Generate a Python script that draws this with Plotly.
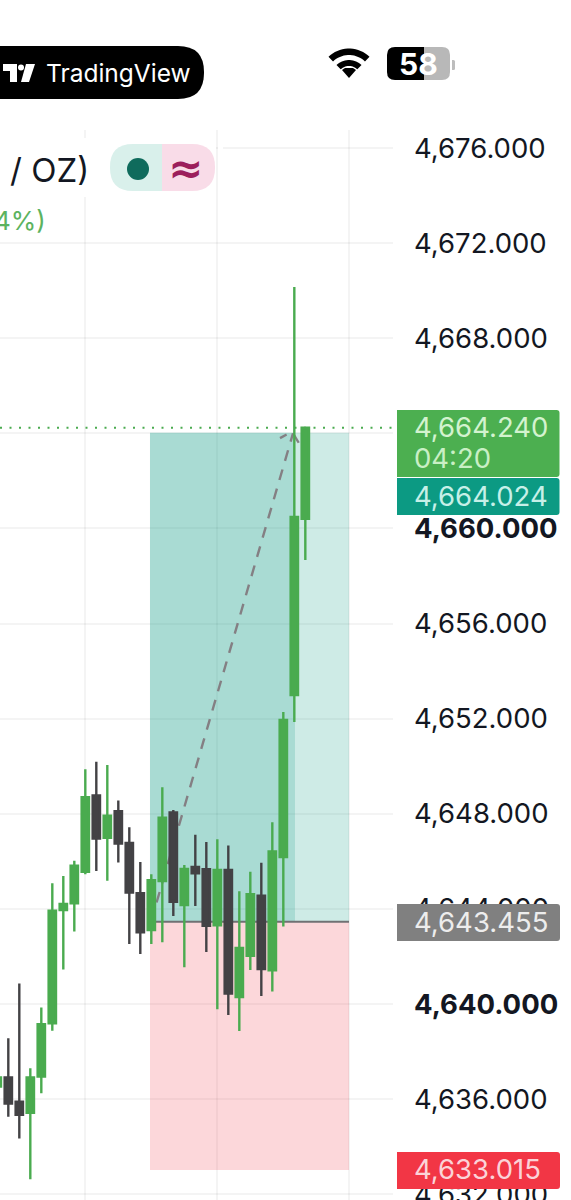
import numpy as np
import plotly.graph_objects as go

W, H = 571, 1200

# ---------- data ----------
CANDLE_INDEX = list(range(-1, 28))
OPEN = [4636.52, 4636.91, 4635.89, 4635.42, 4636.94, 4639.18, 4643.95, 4644.23, 4645.56, 4648.77, 4646.99,
        4648.10, 4646.77, 4644.66, 4643.11, 4645.17, 4648.05, 4644.16, 4645.76, 4645.66, 4643.31, 4645.63,
        4640.29, 4642.02, 4644.55, 4641.41, 4646.18, 4652.99, 4660.41]
HIGH = [4637.00, 4638.55, 4640.86, 4637.29, 4639.85, 4645.07, 4645.38, 4646.02, 4649.87, 4650.19, 4650.05,
        4648.55, 4647.43, 4645.97, 4645.45, 4649.11, 4648.16, 4645.84, 4647.11, 4646.81, 4646.92, 4646.66,
        4644.74, 4645.56, 4645.94, 4647.64, 4652.28, 4670.16, 4664.24]
LOW = [4636.40, 4635.25, 4634.34, 4632.62, 4636.24, 4638.87, 4641.45, 4643.04, 4645.45, 4645.59, 4645.18,
       4645.95, 4642.52, 4642.10, 4642.52, 4642.59, 4643.70, 4641.54, 4644.12, 4642.18, 4639.77, 4639.53,
       4638.86, 4641.43, 4640.33, 4640.52, 4643.25, 4651.86, 4658.67]
CLOSE = [4636.91, 4635.81, 4635.33, 4636.91, 4639.15, 4643.92, 4644.20, 4645.81, 4648.69, 4646.95, 4647.92,
         4646.74, 4644.68, 4643.01, 4645.20, 4647.83, 4644.29, 4645.68, 4645.49, 4643.28, 4645.63, 4640.43,
         4642.35, 4644.61, 4641.47, 4646.41, 4651.94, 4660.48, 4664.24]

TICK_VALUES = [4632, 4636, 4640, 4644, 4648, 4652, 4656, 4660, 4664, 4668, 4672, 4676]
BOLD_TICKS = [4640, 4660]
HIDDEN_TICKS = [4664]
GRID_INDEX = [7, 19, 31]
X_RANGE = [-0.755, 34.97]

LAST_PRICE = 4664.240
COUNTDOWN = "04:20"
TARGET_PRICE = 4664.024
ENTRY_PRICE = 4643.455
STOP_PRICE = 4633.015

POSITION_START, POSITION_SPLIT, POSITION_END = 12.88, 26.06, 30.97
PATH_INDEX = [12.97, 25.88, 26.6]
PATH_PRICE = [ENTRY_PRICE, 4664.0, 4663.45]
HOOK_INDEX = [24.7, 25.3]
HOOK_PRICE = [4663.8, 4663.95]

# ---------- helpers (screen furniture in page pixels) ----------
def px(x):
    return x / W

def py(y):
    return 1 - y / H

def pt(x, y):
    return f"{px(x):.5f},{py(y):.5f}"

def poly(points):
    return "M" + " L".join(pt(x, y) for x, y in points) + " Z"

def round_rect(x0, y0, x1, y1, r, tl=True, tr=True, br=True, bl=True):
    s = "M" + pt(x0 + (r if tl else 0), y0)
    s += " L" + pt(x1 - (r if tr else 0), y0)
    if tr:
        s += " Q" + pt(x1, y0) + " " + pt(x1, y0 + r)
    s += " L" + pt(x1, y1 - (r if br else 0))
    if br:
        s += " Q" + pt(x1, y1) + " " + pt(x1 - r, y1)
    s += " L" + pt(x0 + (r if bl else 0), y1)
    if bl:
        s += " Q" + pt(x0, y1) + " " + pt(x0, y1 - r)
    s += " L" + pt(x0, y0 + (r if tl else 0))
    if tl:
        s += " Q" + pt(x0, y0) + " " + pt(x0 + r, y0)
    return s + " Z"

def arc_band(cx, cy, r0, r1, half_deg=44):
    a = np.radians(np.linspace(-half_deg, half_deg, 18))
    outer = [(cx + r1 * np.sin(t), cy - r1 * np.cos(t)) for t in a]
    inner = [(cx + r0 * np.sin(t), cy - r0 * np.cos(t)) for t in a[::-1]]
    return poly(outer + inner)

def screen_shape(path, color):
    return dict(type="path", xref="paper", yref="paper", path=path, fillcolor=color,
                line=dict(width=0), layer="above")

def label(x, y, text, size, color, anchor="left", bold=False, family="Inter"):
    return dict(xref="paper", yref="paper", x=px(x), y=py(y), text=f"<b>{text}</b>" if bold else text,
                xanchor=anchor, yanchor="middle", showarrow=False,
                font=dict(family=family, size=size, color=color))

def chart_rect(x0, x1, y0, y1, color):
    return dict(type="rect", xref="x", yref="y", x0=x0, x1=x1, y0=y0, y1=y1,
                fillcolor=color, line=dict(width=0), layer="between")

# ---------- figure ----------
GREEN = "#4aab4f"
DARK = "#434245"
GRID = "rgba(0,0,0,0.045)"
tick_text = [f"<b>{v:,.3f}</b>" if v in BOLD_TICKS else ("" if v in HIDDEN_TICKS else f"{v:,.3f}")
             for v in TICK_VALUES]

fig = go.Figure(go.Candlestick(
    x=CANDLE_INDEX, open=OPEN, high=HIGH, low=LOW, close=CLOSE,
    increasing=dict(line=dict(color=GREEN, width=2.4), fillcolor=GREEN),
    decreasing=dict(line=dict(color=DARK, width=2.4), fillcolor=DARK),
    showlegend=False, hoverinfo="skip",
))

shapes = [
    chart_rect(POSITION_START, POSITION_SPLIT, ENTRY_PRICE, TARGET_PRICE, "rgba(8,153,129,0.35)"),
    chart_rect(POSITION_SPLIT, POSITION_END, ENTRY_PRICE, TARGET_PRICE, "rgba(8,153,129,0.20)"),
    chart_rect(POSITION_START, POSITION_END, STOP_PRICE, ENTRY_PRICE, "rgba(242,54,69,0.20)"),
    dict(type="line", xref="x", yref="y", x0=POSITION_START, x1=POSITION_END, y0=ENTRY_PRICE, y1=ENTRY_PRICE,
         line=dict(color="#707173", width=2), layer="between"),
    dict(type="line", xref="x", yref="y", x0=X_RANGE[0], x1=X_RANGE[1], y0=LAST_PRICE, y1=LAST_PRICE,
         line=dict(color=GREEN, width=2, dash="2px,7.5px"), layer="between"),
]
for xs, ys in [(PATH_INDEX[:2], PATH_PRICE[:2]), (PATH_INDEX[1:], PATH_PRICE[1:]), (HOOK_INDEX, HOOK_PRICE)]:
    shapes.append(dict(type="line", xref="x", yref="y", x0=xs[0], x1=xs[1], y0=ys[0], y1=ys[1],
                       line=dict(color="#847f83", width=2.4, dash="11px,9px"), layer="between"))

# header masks and furniture
shapes += [
    screen_shape(poly([(0, 138), (216, 138), (216, 197), (0, 197)]), "#ffffff"),
    screen_shape(poly([(218, 144), (223, 144), (223, 152), (218, 152)]), "#ffffff"),
    screen_shape(round_rect(-30, 46, 204, 99, 26), "#000000"),
    screen_shape(poly([(3, 64), (17, 64), (17, 82), (10, 82), (10, 71), (3, 71)]), "#ffffff"),
    dict(type="circle", xref="paper", yref="paper", x0=px(18), x1=px(24), y0=py(70.5), y1=py(64.5),
         fillcolor="#ffffff", line=dict(width=0), layer="above"),
    screen_shape(poly([(26, 64), (35, 64), (29, 82), (21, 82)]), "#ffffff"),
    screen_shape(arc_band(349, 78, 23, 29.5), "#000000"),
    screen_shape(arc_band(349, 78, 12, 18), "#000000"),
    screen_shape(poly([(349, 78), (342, 70), (345, 68), (353, 68), (356, 70)]), "#000000"),
    screen_shape(round_rect(387, 47, 424, 80, 8, tr=False, br=False), "#000000"),
    screen_shape(round_rect(424, 47, 450, 80, 8, tl=False, bl=False), "#b8b8b8"),
    screen_shape(round_rect(452, 60, 455, 70, 1.5, tl=False, bl=False), "#bdbdbd"),
    screen_shape(round_rect(110, 144, 162, 191, 23, tr=False, br=False), "#d9f0eb"),
    screen_shape(round_rect(162, 144, 215, 191, 23, tl=False, bl=False), "#f9dce8"),
    dict(type="circle", xref="paper", yref="paper", x0=px(127), x1=px(149), y0=py(180), y1=py(158),
         fillcolor="#0f6b5c", line=dict(width=0), layer="above"),
    screen_shape(round_rect(397, 410, 559.5, 477, 3, tl=False, bl=False), "#4caf50"),
    screen_shape(round_rect(397, 478, 559.5, 515, 3, tl=False, bl=False), "#0c9a83"),
    screen_shape(round_rect(397, 904, 560, 941, 3, tl=False, bl=False), "#808080"),
    screen_shape(round_rect(397, 1152, 560, 1189, 3, tl=False, bl=False), "#f23645"),
]

annotations = [
    label(44, 73, "TradingView", 24.5, "#ffffff"),
    label(418, 64, "58", 30, "#ffffff", anchor="center", bold=True),
    label(8, 170, "/ OZ)", 33, "#131722"),
    label(48, 220, "4%)", 26, "#5cb35f", anchor="right"),
    label(185, 168, "≈", 42, "#9c1f5c", anchor="center", bold=True, family="DejaVu Sans"),
    label(412, 427, f"{LAST_PRICE:,.3f}", 27.5, "#d3f3cf"),
    label(412, 458, COUNTDOWN, 27.5, "#c9efc5"),
    label(412, 496, f"{TARGET_PRICE:,.3f}", 27.5, "#c6f0e8"),
    label(412, 922, f"{ENTRY_PRICE:,.3f}", 27.5, "#ededed"),
    label(412, 1169, f"{STOP_PRICE:,.3f}", 27.5, "#fbd3d8"),
]

fig.update_layout(
    width=W, height=H, margin=dict(l=0, r=0, t=0, b=0, pad=0, autoexpand=False),
    paper_bgcolor="#ffffff", plot_bgcolor="#ffffff", showlegend=False,
    boxgap=0.33, boxgroupgap=0,
    shapes=shapes, annotations=annotations,
    xaxis=dict(domain=[0, 393 / W], range=X_RANGE, rangeslider=dict(visible=False),
               tickmode="array", tickvals=GRID_INDEX, showticklabels=False, ticks="",
               showgrid=True, gridcolor=GRID, gridwidth=1.5, zeroline=False, showline=False),
    yaxis=dict(domain=[0, 1 - 130 / H], range=[4631.75, 4676.76], side="right",
               tickmode="array", tickvals=TICK_VALUES, ticktext=tick_text, ticks="", ticklabelstandoff=20,
               ticklabeloverflow="allow",
               tickfont=dict(family="Inter", size=27.5, color="#131722"),
               showgrid=True, gridcolor=GRID, gridwidth=1.5, zeroline=False, showline=False),
)

fig.write_html("out.html", config=dict(displayModeBar=False),
               post_script="document.body.style.margin='0';document.documentElement.style.overflow='hidden';"
                           "document.body.style.overflow='hidden';document.body.style.height='1200px';")
